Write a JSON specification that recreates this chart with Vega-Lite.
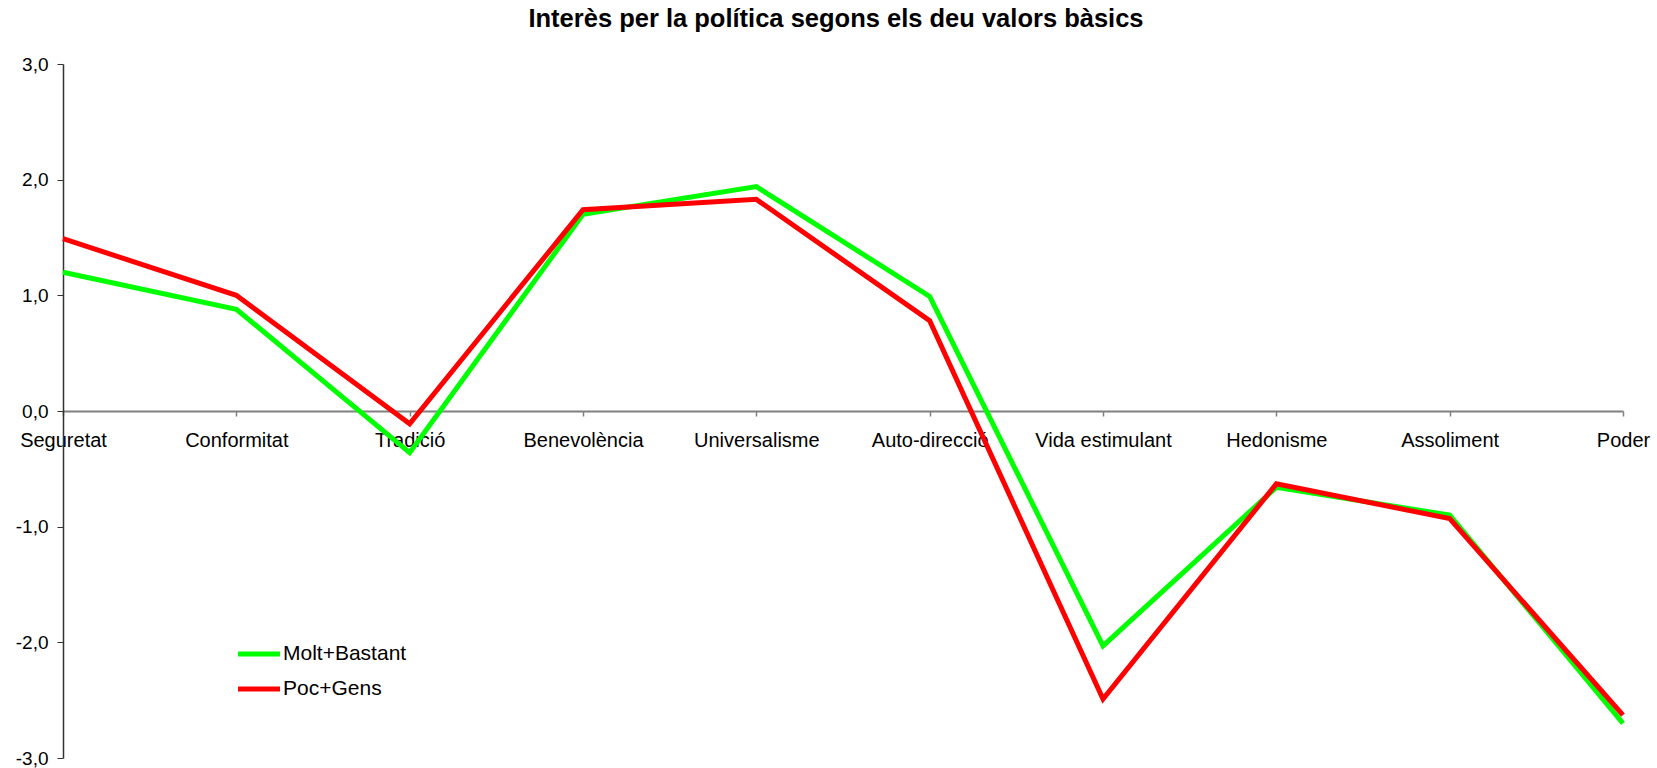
{
  "$schema": "https://vega.github.io/schema/vega-lite/v6.json",
  "autosize": "none",
  "padding": {"left": 63, "top": 64, "right": 34, "bottom": 10},
  "width": 1560,
  "height": 694,
  "background": "white",
  "title": {
    "text": "Interès per la política segons els deu valors bàsics",
    "font": "Liberation Sans",
    "fontSize": 25.5,
    "fontWeight": "bold",
    "color": "black",
    "anchor": "middle",
    "frame": "group",
    "baseline": "alphabetic",
    "offset": 3,
    "dx": -7
  },
  "data": {
    "values": [
      {"valor": "Seguretat", "grup": "Molt+Bastant", "v": 1.20},
      {"valor": "Conformitat", "grup": "Molt+Bastant", "v": 0.88},
      {"valor": "Tradició", "grup": "Molt+Bastant", "v": -0.36},
      {"valor": "Benevolència", "grup": "Molt+Bastant", "v": 1.70},
      {"valor": "Universalisme", "grup": "Molt+Bastant", "v": 1.94},
      {"valor": "Auto-direcció", "grup": "Molt+Bastant", "v": 0.99},
      {"valor": "Vida estimulant", "grup": "Molt+Bastant", "v": -2.03},
      {"valor": "Hedonisme", "grup": "Molt+Bastant", "v": -0.66},
      {"valor": "Assoliment", "grup": "Molt+Bastant", "v": -0.90},
      {"valor": "Poder", "grup": "Molt+Bastant", "v": -2.70},
      {"valor": "Seguretat", "grup": "Poc+Gens", "v": 1.49},
      {"valor": "Conformitat", "grup": "Poc+Gens", "v": 1.00},
      {"valor": "Tradició", "grup": "Poc+Gens", "v": -0.11},
      {"valor": "Benevolència", "grup": "Poc+Gens", "v": 1.74},
      {"valor": "Universalisme", "grup": "Poc+Gens", "v": 1.83},
      {"valor": "Auto-direcció", "grup": "Poc+Gens", "v": 0.78},
      {"valor": "Vida estimulant", "grup": "Poc+Gens", "v": -2.49},
      {"valor": "Hedonisme", "grup": "Poc+Gens", "v": -0.63},
      {"valor": "Assoliment", "grup": "Poc+Gens", "v": -0.93},
      {"valor": "Poder", "grup": "Poc+Gens", "v": -2.63}
    ]
  },
  "mark": {"type": "line", "strokeWidth": 5, "strokeJoin": "miter", "strokeCap": "butt"},
  "encoding": {
    "x": {
      "field": "valor",
      "type": "nominal",
      "sort": null,
      "scale": {"type": "point", "padding": 0},
      "axis": {
        "title": null,
        "offset": -347,
        "labelAngle": 0,
        "labelFont": "Liberation Sans",
        "labelFontSize": 20,
        "labelColor": "black",
        "labelPadding": 14,
        "tickSize": 5,
        "tickColor": "#808080",
        "tickWidth": 1.5,
        "domainColor": "#808080",
        "domainWidth": 2,
        "grid": false,
        "labelOverlap": false,
        "labelBound": false
      }
    },
    "y": {
      "field": "v",
      "type": "quantitative",
      "scale": {"domain": [-3, 3], "nice": false, "zero": false},
      "axis": {
        "title": null,
        "values": [-3, -2, -1, 0, 1, 2, 3],
        "labelExpr": "replace(replace(format(datum.value, '.1f'), '.', ','), '\u2212', '-')",
        "labelFont": "Liberation Sans",
        "labelFontSize": 19,
        "labelColor": "black",
        "labelPadding": 9,
        "tickSize": 6,
        "tickColor": "#333333",
        "domainColor": "#333333",
        "domainWidth": 1.5,
        "grid": false
      }
    },
    "color": {
      "field": "grup",
      "type": "nominal",
      "scale": {"domain": ["Molt+Bastant", "Poc+Gens"], "range": ["#00ff00", "#ff0000"]},
      "legend": {
        "title": null,
        "orient": "none",
        "legendX": 176,
        "legendY": 570,
        "padding": 0,
        "symbolType": "M-1.2,0H1.2",
        "symbolSize": 1225,
        "symbolStrokeWidth": 5,
        "rowPadding": 5,
        "labelOffset": 4,
        "labelFont": "Liberation Sans",
        "labelFontSize": 21,
        "labelColor": "black"
      }
    }
  },
  "config": {
    "view": {"stroke": null}
  }
}
